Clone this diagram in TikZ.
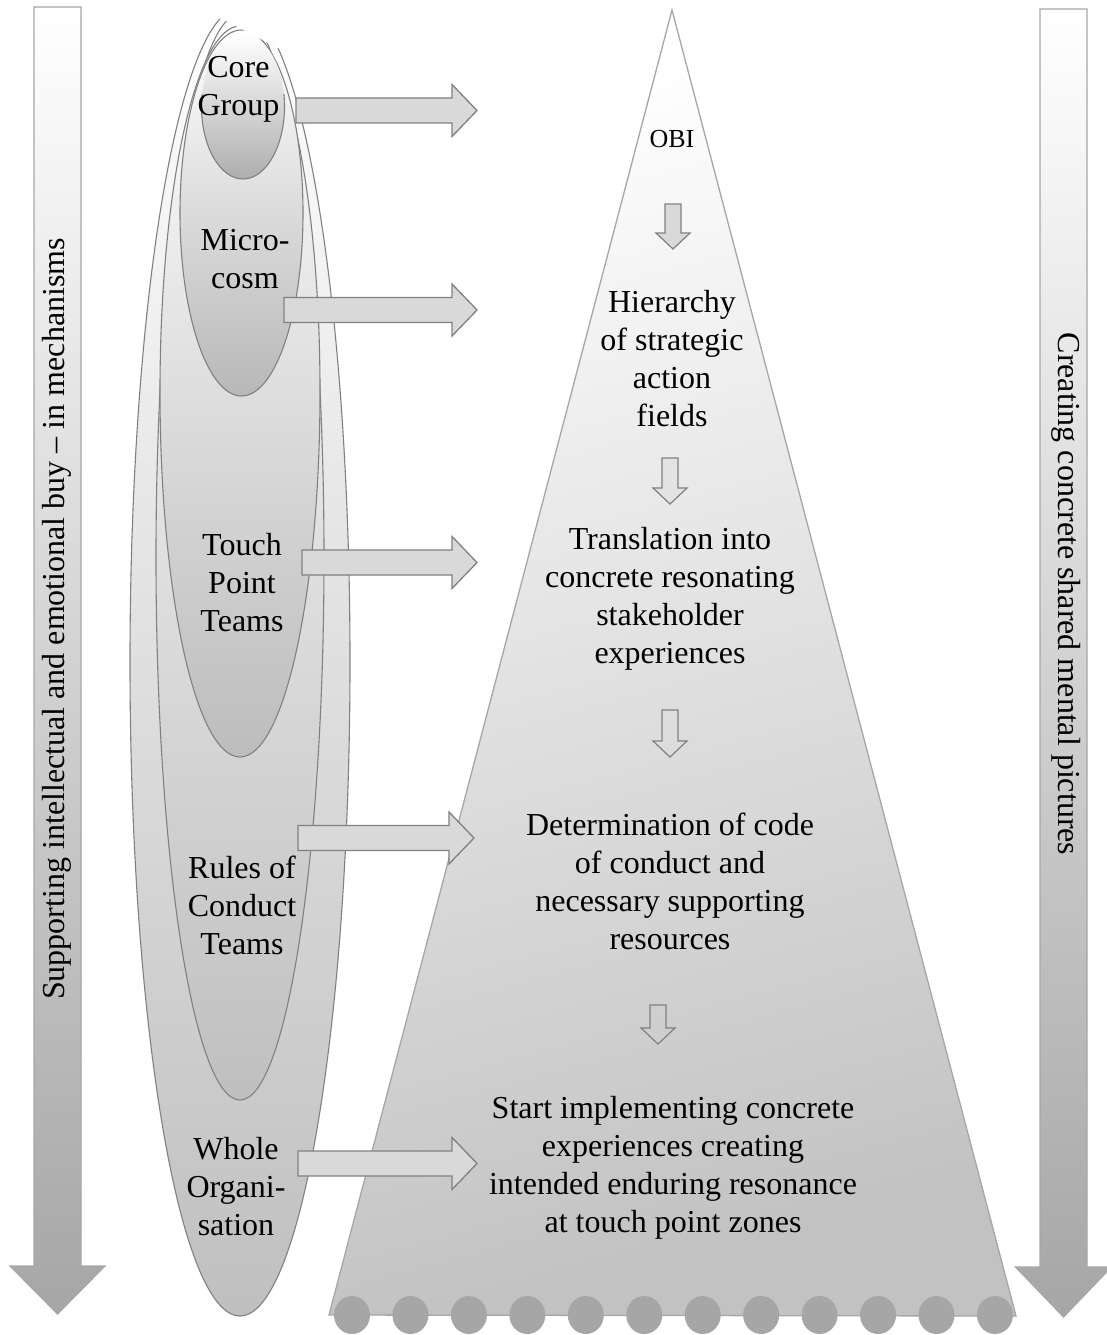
\documentclass[tikz,border=0pt]{standalone}
\usepackage{fontspec}
\setmainfont{Liberation Serif}
\newcommand{\stacktext}[1]{\begin{tabular}[t]{@{}c@{}}#1\end{tabular}}
\newcommand{\harrow}[3]{\draw[blockarrow] (#1,#3-12.5) -- (#2-25,#3-12.5) -- (#2-25,#3-26) -- (#2,#3) -- (#2-25,#3+26) -- (#2-25,#3+12.5) -- (#1,#3+12.5) -- cycle;}
\newcommand{\darrow}[4]{\draw[#4] (#1-8,#2) -- (#1+8,#2) -- (#1+8,#3-16) -- (#1+17,#3-16) -- (#1,#3) -- (#1-17,#3-16) -- (#1-8,#3-16) -- cycle;}
\newcommand{\outlineclip}{\clip (100,17) -- (222,19) -- (285,52) -- (400,58) -- (400,1400) -- (100,1400) -- cycle;}
\begin{document}
\begin{tikzpicture}[x=1pt,y=-1pt,
  ellline/.style={draw=black!50, line width=1.1pt},
  blockarrow/.style={draw=black!50, fill=black!15, line width=1.3pt, line join=miter},
  downfilled/.style={draw=black!50, fill=black!15, line width=1.2pt},
  downlight/.style={draw=black!50, fill=black!11, line width=1.2pt},
  downempty/.style={draw=black!50, line width=1.2pt},
  barfill/.style={draw=black!35, line width=1.2pt, top color=white, bottom color=black!35},
  lbl/.style={font=\fontsize{32}{38}\selectfont, inner sep=0pt, anchor=base},
  sidelbl/.style={font=\fontsize{32}{38}\selectfont, inner sep=0pt, anchor=center},
]
\useasboundingbox (0,0) rectangle (1106,1335);

% side bar arrows
\path[barfill] (34,7) -- (81,7) -- (81,1266) -- (105,1266) -- (57.5,1314) -- (10,1266) -- (34,1266) -- cycle;
\path[barfill] (1040,9) -- (1087,9) -- (1087,1267) -- (1111.5,1267) -- (1063.5,1317) -- (1015.5,1267) -- (1040,1267) -- cycle;

% nested ellipses: fills, then outlines (the very tops stay open)
\path[top color=white, bottom color=black!25] (240,662) ellipse [x radius=110pt, y radius=654pt];
\begin{scope}\outlineclip
  \draw[ellline] (240,662) ellipse [x radius=110pt, y radius=654pt];
\end{scope}
\path[top color=white, bottom color=black!25] (240,557) ellipse [x radius=84pt, y radius=543pt];
\begin{scope}\outlineclip
  \draw[ellline] (240,557) ellipse [x radius=84pt, y radius=543pt];
\end{scope}
\path[top color=white, bottom color=black!26] (240,391.5) ellipse [x radius=80pt, y radius=365.5pt];
\begin{scope}\outlineclip
  \draw[ellline] (240,391.5) ellipse [x radius=80pt, y radius=365.5pt];
\end{scope}
\path[top color=white, bottom color=black!28] (241.5,213) ellipse [x radius=61.5pt, y radius=183pt];
\begin{scope}\outlineclip
  \draw[ellline] (241.5,213) ellipse [x radius=61.5pt, y radius=183pt];
\end{scope}
\path[top color=white, bottom color=black!32] (243,106.5) ellipse [x radius=41.5pt, y radius=72.5pt];
\begin{scope}
  \clip (150,95) rectangle (350,200);
  \draw[ellline] (243,106.5) ellipse [x radius=41.5pt, y radius=72.5pt];
\end{scope}

% pyramid
\path[draw=black!35, line width=1.3pt, top color=white, bottom color=black!24, shading angle=15]
  (672,10) -- (1016,1316) -- (329,1315) -- cycle;
\foreach \i in {0,...,11}
  \fill[black!35] (352+58.45*\i,1315) ellipse [x radius=18pt, y radius=19pt];

% horizontal block arrows
\harrow{296}{477}{110.5}
\harrow{284}{477}{310}
\harrow{302}{477}{562.5}
\harrow{298}{474}{838}
\harrow{298}{477}{1163.5}

% down arrows inside the pyramid
\darrow{673}{204}{249}{downfilled}
\darrow{670}{458}{504}{downlight}
\darrow{670}{710}{757}{downempty}
\darrow{658}{1005}{1044}{downempty}

% left labels
\node[lbl] (core) at (238.5,78) {\stacktext{Core\\Group}};
\node[lbl] (micro) at (245,250) {\stacktext{Micro-\\cosm}};
\node[lbl] (touch) at (242,555) {\stacktext{Touch\\Point\\Teams}};
\node[lbl] (rules) at (242,878) {\stacktext{Rules of\\Conduct\\Teams}};
\node[lbl] (whole) at (236,1159) {\stacktext{Whole\\Organi-\\sation}};

% pyramid labels
\node[lbl, font=\fontsize{26}{30}\selectfont] (obi) at (672,147) {OBI};
\node[lbl] (hier) at (672,312) {\stacktext{Hierarchy\\of strategic\\action\\fields}};
\node[lbl] (trans) at (670,549) {\stacktext{Translation into\\concrete resonating\\stakeholder\\experiences}};
\node[lbl] (det) at (670,835) {\stacktext{Determination of code\\of conduct and\\necessary supporting\\resources}};
\node[lbl] (start) at (673,1118) {\stacktext{Start implementing concrete\\experiences creating\\intended enduring resonance\\at touch point zones}};

% side labels
\node[sidelbl, rotate=90] (lefttxt) at (57,619) {Supporting intellectual and emotional buy – in mechanisms};
\node[sidelbl, rotate=-90] (righttxt) at (1066,594) {Creating concrete shared mental pictures};
\end{tikzpicture}
\end{document}
